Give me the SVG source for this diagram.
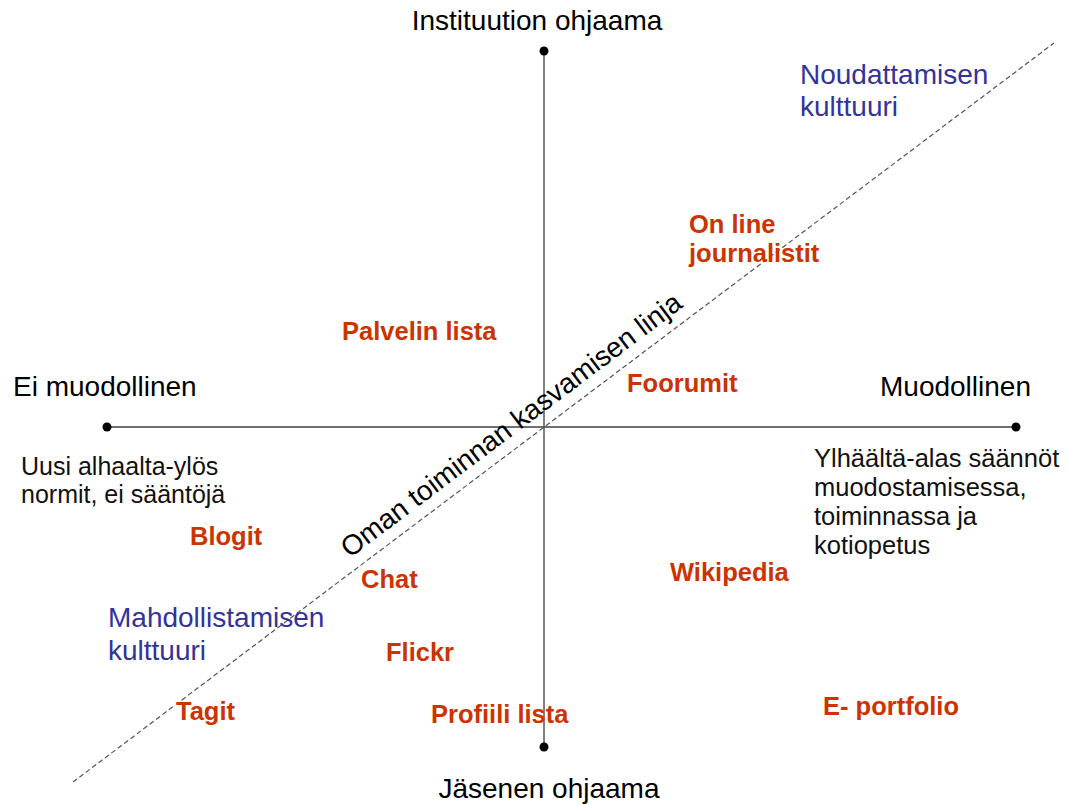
<svg xmlns="http://www.w3.org/2000/svg" width="1068" height="805" viewBox="0 0 1068 805">
<style>
.ax{font-family:"Liberation Sans",Arial,sans-serif;font-size:28px;fill:#000}
.desc{font-family:"Liberation Sans",Arial,sans-serif;font-size:25px;fill:#111}
.descr{font-family:"Liberation Sans",Arial,sans-serif;font-size:25.5px;fill:#111}
.cul{font-family:"Liberation Sans",Arial,sans-serif;font-size:28px;fill:#333399}
.it{font-family:"Liberation Sans",Arial,sans-serif;font-size:25.5px;font-weight:bold;fill:#cc3300}
.diag{font-family:"Liberation Sans",Arial,sans-serif;font-size:28px;fill:#000}
</style>
<rect width="1068" height="805" fill="#fff"/>
<g id="connectors">
<line x1="544" y1="51" x2="544" y2="747" stroke="#808080" stroke-width="2"/>
<line x1="107" y1="427" x2="1016" y2="427" stroke="#404040" stroke-width="1.5"/>
<line x1="73" y1="782" x2="1054" y2="43" stroke="#555" stroke-width="1.2" stroke-dasharray="5,3"/>
<circle cx="544" cy="51" r="4.5" fill="#000"/>
<circle cx="544" cy="747" r="4.5" fill="#000"/>
<circle cx="107" cy="427" r="4.5" fill="#000"/>
<circle cx="1016" cy="427" r="4.5" fill="#000"/>
</g>
<g id="top"><text class="ax" x="537" y="30" text-anchor="middle">Instituution ohjaama</text></g>
<g id="bottom"><text class="ax" x="549" y="798" text-anchor="middle">Jäsenen ohjaama</text></g>
<g id="left"><text class="ax" x="13" y="396">Ei muodollinen</text></g>
<g id="right"><text class="ax" x="1031" y="396" text-anchor="end">Muodollinen</text></g>
<g id="left-desc"><text class="desc" x="21" y="475">Uusi alhaalta-ylös</text><text class="desc" x="21" y="503">normit, ei sääntöjä</text></g>
<g id="right-desc"><text class="descr" x="814" y="467">Ylhäältä-alas säännöt</text><text class="descr" x="814" y="496">muodostamisessa,</text><text class="descr" x="814" y="525">toiminnassa ja</text><text class="descr" x="814" y="554">kotiopetus</text></g>
<g id="noudattamisen"><text class="cul" x="800" y="84">Noudattamisen</text><text class="cul" x="800" y="116">kulttuuri</text></g>
<g id="mahdollistamisen"><text class="cul" x="108" y="627">Mahdollistamisen</text><text class="cul" x="108" y="660">kulttuuri</text></g>
<g id="diagonal-label"><text class="diag" transform="translate(544,427) rotate(-37)" x="-25" y="-12" text-anchor="middle">Oman toiminnan kasvamisen linja</text></g>
<g id="online"><text class="it" x="689" y="233">On line</text><text class="it" x="689" y="262">journalistit</text></g>
<g id="palvelin"><text class="it" x="342" y="340">Palvelin lista</text></g>
<g id="foorumit"><text class="it" x="627" y="392">Foorumit</text></g>
<g id="blogit"><text class="it" x="190" y="545">Blogit</text></g>
<g id="chat"><text class="it" x="361" y="588">Chat</text></g>
<g id="wikipedia"><text class="it" x="670" y="581">Wikipedia</text></g>
<g id="flickr"><text class="it" x="386" y="661">Flickr</text></g>
<g id="tagit"><rect x="175" y="701" width="62" height="27" fill="#fff"/><text class="it" x="176" y="720">Tagit</text></g>
<g id="profiili"><text class="it" x="431" y="723">Profiili lista</text></g>
<g id="eportfolio"><text class="it" x="823" y="715">E- portfolio</text></g>
</svg>
